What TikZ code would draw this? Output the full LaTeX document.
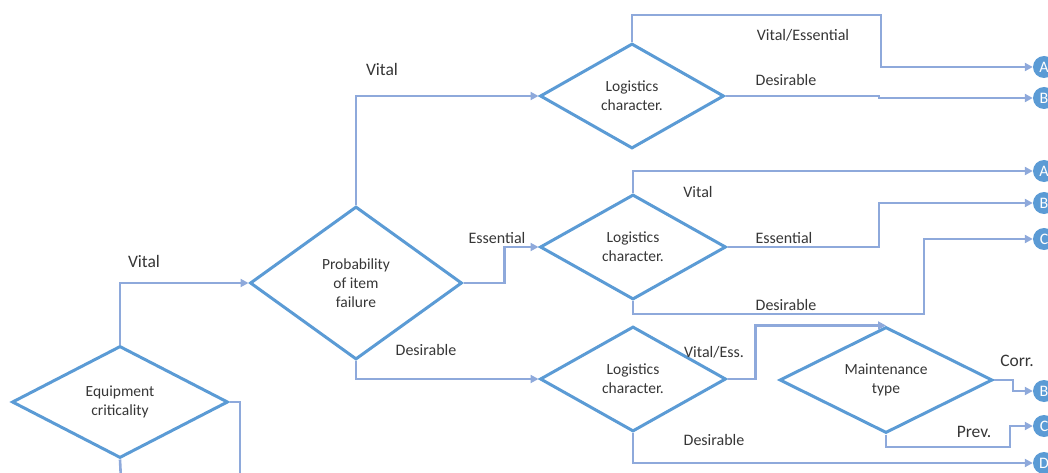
\documentclass[tikz,border=0pt]{standalone}
\usepackage{fontspec}
\setmainfont{Carlito}
\usetikzlibrary{shapes.geometric,arrows.meta}
\definecolor{dblue}{HTML}{5B9BD5}
\definecolor{lblue}{HTML}{8EA9DB}
\definecolor{txt}{HTML}{363636}
\begin{document}
\begin{tikzpicture}[x=1pt,y=-1pt,
  dia/.style={diamond, draw=dblue, line width=3pt, inner sep=0pt, aspect=2,
    text=txt, font=\fontsize{15.5}{19}\selectfont, align=center},
  conn/.style={draw=lblue, line width=2.6pt, -{Triangle[length=8pt,width=8pt]}},
  connplain/.style={draw=lblue, line width=2.6pt},
  circ/.style={circle, fill=dblue, minimum size=22pt, inner sep=0pt, text=white,
    font=\fontsize{16}{16}\selectfont},
  lab/.style={text=txt, font=\fontsize{16}{19}\selectfont, inner sep=0pt},
  labb/.style={text=txt, font=\fontsize{17.5}{20}\selectfont, inner sep=0pt}]
\useasboundingbox (0,0) rectangle (1048,473);

% diamonds
\node[dia, minimum width=216pt, minimum height=112pt] (eq) at (120,402) {Equipment\\criticality};
\node[dia, minimum width=212pt, minimum height=153pt] (prob) at (356,283) {Probability\\of item\\failure};
\node[dia, minimum width=184pt, minimum height=105pt] (lc1) at (632,96) {Logistics\\character.};
\node[dia, minimum width=186pt, minimum height=105pt] (lc2) at (633,247) {Logistics\\character.};
\node[dia, minimum width=186pt, minimum height=105pt] (lc3) at (633,379) {Logistics\\character.};
\node[dia, minimum width=213pt, minimum height=106pt] (mt) at (886,380) {Maintenance\\type};

% end circles
\node[circ] (a1) at (1044,67) {A};
\node[circ] (b1) at (1044,98) {B};
\node[circ] (a2) at (1044,171) {A};
\node[circ] (b2) at (1044,203) {B};
\node[circ] (c1) at (1044,239) {C};
\node[circ] (b3) at (1044,391) {B};
\node[circ] (c2) at (1044,426) {C};
\node[circ] (d1) at (1044,463) {D};

% free ends at bottom
\coordinate (e1) at (240,480);
\coordinate (e2) at (121,480);

% connectors
\draw[conn] (eq.north) |- (prob.west);
\draw[connplain] (eq.east) -| (e1);
\draw[connplain] (eq.south) -- (e2);

\draw[conn] (prob.north) |- (lc1.west);
\draw[conn] (prob.east) -- ++(41,0) |- (lc2.west);
\draw[conn] (prob.south) |- (lc3.west);

\draw[conn] (lc1.north) |- (881,15) |- (a1);
\draw[conn] (lc1.east) -| (879,98) -- (b1);

\draw[conn] (lc2.north) |- (a2);
\draw[conn] (lc2.east) -| (879,203) -- (b2);
\draw[conn] (lc2.south) |- (924,314) |- (c1);

\draw[conn] (lc3.east) -- ++(28,0) |- (mt.north);
\draw[conn] (lc3.south) |- (d1);

\draw[conn] (mt.east) -| (1013,391) -- (b3);
\draw[conn] (mt.south) |- (1010,447) |- (c2);

% labels
\node[labb] (l1) at (144,261) {Vital};
\node[labb] (l2) at (382,69) {Vital};
\node[lab] (l3) at (497,238) {Essential};
\node[lab] (l4) at (426,350) {Desirable};
\node[lab] (l5) at (803,35) {Vital/Essential};
\node[lab] (l6) at (786,80) {Desirable};
\node[lab] (l7) at (698,192) {Vital};
\node[lab] (l8) at (784,238) {Essential};
\node[lab] (l9) at (786,305) {Desirable};
\node[lab] (l10) at (714,352) {Vital/Ess.};
\node[lab] (l11) at (714,440) {Desirable};
\node[labb] (l12) at (1017,361) {Corr.};
\node[labb] (l13) at (974,432) {Prev.};
\end{tikzpicture}
\end{document}
